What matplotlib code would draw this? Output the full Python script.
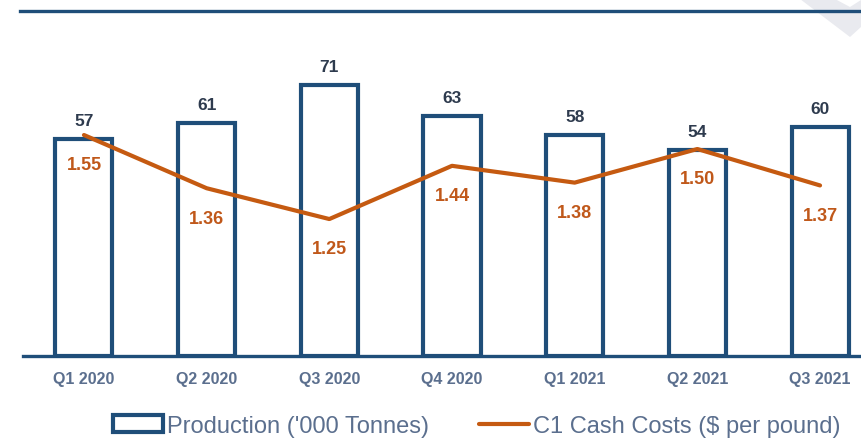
import matplotlib.pyplot as plt
import numpy as np
from matplotlib.lines import Line2D
from matplotlib.patches import Polygon

plt.rcParams['font.family'] = ['Liberation Sans', 'DejaVu Sans']

quarters = ["Q1 2020", "Q2 2020", "Q3 2020", "Q4 2020", "Q1 2021", "Q2 2021", "Q3 2021"]
production = [57, 61, 71, 63, 58, 54, 60]
cash_costs = [1.55, 1.36, 1.25, 1.44, 1.38, 1.50, 1.37]

navy = "#1F4E79"
orange = "#C55A11"
label_navy = "#2E3B4E"
grey_text = "#5B6F8E"

W, H = 861, 439
fig = plt.figure(figsize=(W / 100, H / 100), dpi=100)

# light chevron decoration, top right
fig.add_artist(Polygon(
    [(800 / W, 1), (835 / W, 1), (850 / W, 1 - 8 / H), (1, 1 - 1 / H),
     (1, 1 - 28 / H), (850 / W, 1 - 38 / H)],
    closed=True, transform=fig.transFigure, facecolor="#E9EAEF", edgecolor="none", zorder=0))

# top rule
fig.add_artist(Line2D([20 / W, 1], [1 - 12 / H, 1 - 12 / H], transform=fig.transFigure,
                      color=navy, linewidth=2.4))

ax = fig.add_axes([23 / W, 1 - 357 / H, 1 - 23 / W, (357 - 52) / H])
ax2 = ax.twinx()

x = np.arange(len(quarters))
bars = ax.bar(x, production, width=0.465, facecolor="white", edgecolor=navy,
              linewidth=3, zorder=2, label="Production ('000 Tonnes)")
for xi, v in zip(x, production):
    ax.annotate(str(v), (xi, v), xytext=(0, 8), textcoords="offset points",
                ha="center", va="bottom", fontsize=12.5, fontweight="bold", color=label_navy)

line, = ax2.plot(x, cash_costs, color=orange, linewidth=3, solid_capstyle="round",
                 zorder=3, label="C1 Cash Costs ($ per pound)")
for xi, v in zip(x, cash_costs):
    ax2.annotate(f"{v:.2f}", (xi, v), xytext=(0, -21.5), textcoords="offset points",
                 ha="center", va="center", fontsize=13, fontweight="bold", color="#C0581A")

ax.set_xlim(-0.497, 6.334)
ax.set_ylim(0, 80)
ax2.set_ylim(0.761, 1.85)

for a in (ax, ax2):
    for s in ("top", "right", "left"):
        a.spines[s].set_visible(False)
    a.set_yticks([])
ax2.spines["bottom"].set_visible(False)
ax.spines["bottom"].set_color(navy)
ax.spines["bottom"].set_linewidth(2.4)
ax.spines["bottom"].set_zorder(4)

ax.set_xticks(x)
ax.set_xticklabels(quarters, fontsize=11.5, fontweight="bold", color=grey_text)
ax.tick_params(axis="x", length=0, pad=11)
ax.patch.set_visible(False)

leg = fig.legend([bars, line], ["Production ('000 Tonnes)", "C1 Cash Costs ($ per pound)"],
                 loc="center", bbox_to_anchor=(0.554, 1 - 427 / H), ncol=2, frameon=False,
                 fontsize=17, handlelength=2.1, handleheight=0.7, handletextpad=0.2,
                 columnspacing=2.1, borderpad=0)
for t in leg.get_texts():
    t.set_color(grey_text)

fig.savefig("out.png", dpi=100)
